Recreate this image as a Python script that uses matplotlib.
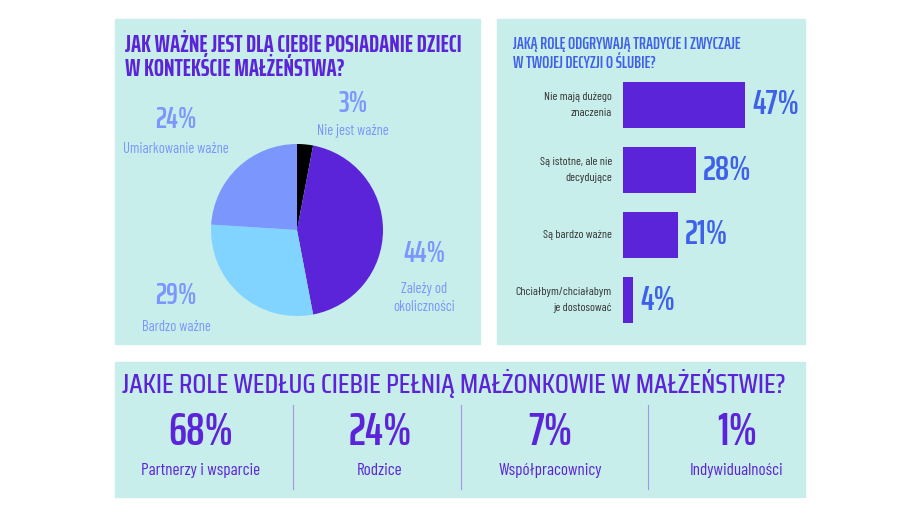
import matplotlib
matplotlib.use("Agg")
import matplotlib.pyplot as plt
from matplotlib.patches import Rectangle

BODY = ['Barlow Condensed', 'DejaVu Sans']
HEAD = ['Saira ExtraCondensed', 'Barlow Condensed', 'DejaVu Sans']
WIDE = ['Saira Condensed', 'Saira ExtraCondensed', 'Barlow Condensed', 'DejaVu Sans']
plt.rcParams['font.family'] = BODY

BG = '#c8eeeb'
PURPLE = '#5b24d9'
PERI = '#7b96fc'
LIGHT = '#80d4ff'
BLUE = '#3f60e8'

# panel 1: children
pie_labels = ['Nie jest ważne', 'Zależy od\nokoliczności', 'Bardzo ważne', 'Umiarkowanie ważne']
pie_values = [3, 44, 29, 24]
pie_colors = ['#000000', PURPLE, LIGHT, PERI]

# panel 2: traditions
bar_labels = ['Nie mają dużego\nznaczenia', 'Są istotne, ale nie\ndecydujące',
              'Są bardzo ważne', 'Chciałbym/chciałabym\nje dostosować']
bar_values = [47, 28, 21, 4]

# panel 3: roles of spouses
role_labels = ['Partnerzy i wsparcie', 'Rodzice', 'Współpracownicy', 'Indywidualności']
role_values = [68, 24, 7, 1]

W, H = 920, 518
fig = plt.figure(figsize=(W / 100, H / 100), dpi=100)
fig.patch.set_facecolor('white')

# overlay in pixel coordinates
ov = fig.add_axes([0, 0, 1, 1])
ov.set_xlim(0, W)
ov.set_ylim(H, 0)
ov.axis('off')
for x0, y0, x1, y1 in [(115, 19, 480, 344), (497, 19, 805, 344), (115, 362, 805, 497)]:
    ov.add_patch(Rectangle((x0, y0), x1 - x0, y1 - y0, color=BG, zorder=0))

# ---- pie panel
ov.text(125, 52, 'JAK WAŻNE JEST DLA CIEBIE POSIADANIE DZIECI', color=PURPLE,
        fontsize=17.3, fontweight='bold', va='baseline', ha='left', family=HEAD)
ov.text(125, 76, 'W KONTEKŚCIE MAŁŻEŃSTWA?', color=PURPLE,
        fontsize=17.3, fontweight='bold', va='baseline', ha='left', family=HEAD)

cx, cy, r = 297, 230, 86
pax = fig.add_axes([(cx - r) / W, (H - cy - r) / H, 2 * r / W, 2 * r / H])
pax.pie(pie_values, colors=pie_colors, startangle=90, counterclock=False,
        wedgeprops=dict(linewidth=0))
pax.set_xlim(-1, 1)
pax.set_ylim(-1, 1)

pie_pos = [(353, 104, 131), (424, 254, 298), (176, 296, 327), (176, 119, 149)]
for lab, val, (x, yv, yl) in zip(pie_labels, pie_values, pie_pos):
    ov.text(x, yv, f'{val}%', color=PERI, fontsize=21.5, fontweight='semibold',
            ha='center', va='center', family=HEAD)
    ov.text(x, yl, lab, color=PERI, fontsize=10.5, ha='center', va='center',
            linespacing=1.45)

# ---- bar panel
ov.text(513, 49, 'JAKĄ ROLĘ ODGRYWAJĄ TRADYCJE I ZWYCZAJE', color=BLUE,
        fontsize=12.1, fontweight='semibold', va='baseline', ha='left', family=HEAD)
ov.text(513, 68, 'W TWOJEJ DECYZJI O ŚLUBIE?', color=BLUE,
        fontsize=12.1, fontweight='semibold', va='baseline', ha='left', family=HEAD)

bx0, by0, bw, bh = 623, 72.5, 180, 260
bax = fig.add_axes([bx0 / W, (H - by0 - bh) / H, bw / W, bh / H])
ypos = list(range(len(bar_values)))
bax.barh(ypos, bar_values, height=0.71, color=PURPLE)
bax.set_xlim(0, bw / 2.6)
bax.set_ylim(len(bar_values) - 0.5, -0.5)
bax.axis('off')
for i, (lab, val) in enumerate(zip(bar_labels, bar_values)):
    bax.annotate(lab, (0, i), xytext=(-11, 0), textcoords='offset pixels',
                 ha='right', va='center', fontsize=8.7, color='#333333',
                 linespacing=1.75, annotation_clip=False)
    bax.annotate(f'{val}%', (val, i), xytext=(7, 0), textcoords='offset pixels',
                 ha='left', va='center', fontsize=25, fontweight='semibold', color=BLUE,
                 annotation_clip=False, family=HEAD)

# ---- roles panel
ov.text(122, 393, 'JAKIE ROLE WEDŁUG CIEBIE PEŁNIĄ MAŁŻONKOWIE W MAŁŻEŃSTWIE?',
        color=PURPLE, fontsize=19.6, fontweight='medium', va='baseline', ha='left',
        family=WIDE)
col_x = [201, 380, 550, 737]
for x, lab, val in zip(col_x, role_labels, role_values):
    ov.text(x, 445, f'{val}%', color=PURPLE, fontsize=33, fontweight='semibold',
            ha='center', va='baseline', family=HEAD)
    ov.text(x, 475, lab, color=PURPLE, fontsize=12.3, ha='center', va='baseline')
for x in [293, 461, 648]:
    ov.plot([x, x], [405, 489], color='#a195e6', linewidth=0.8)

fig.savefig('out.png', dpi=100, facecolor='white')
